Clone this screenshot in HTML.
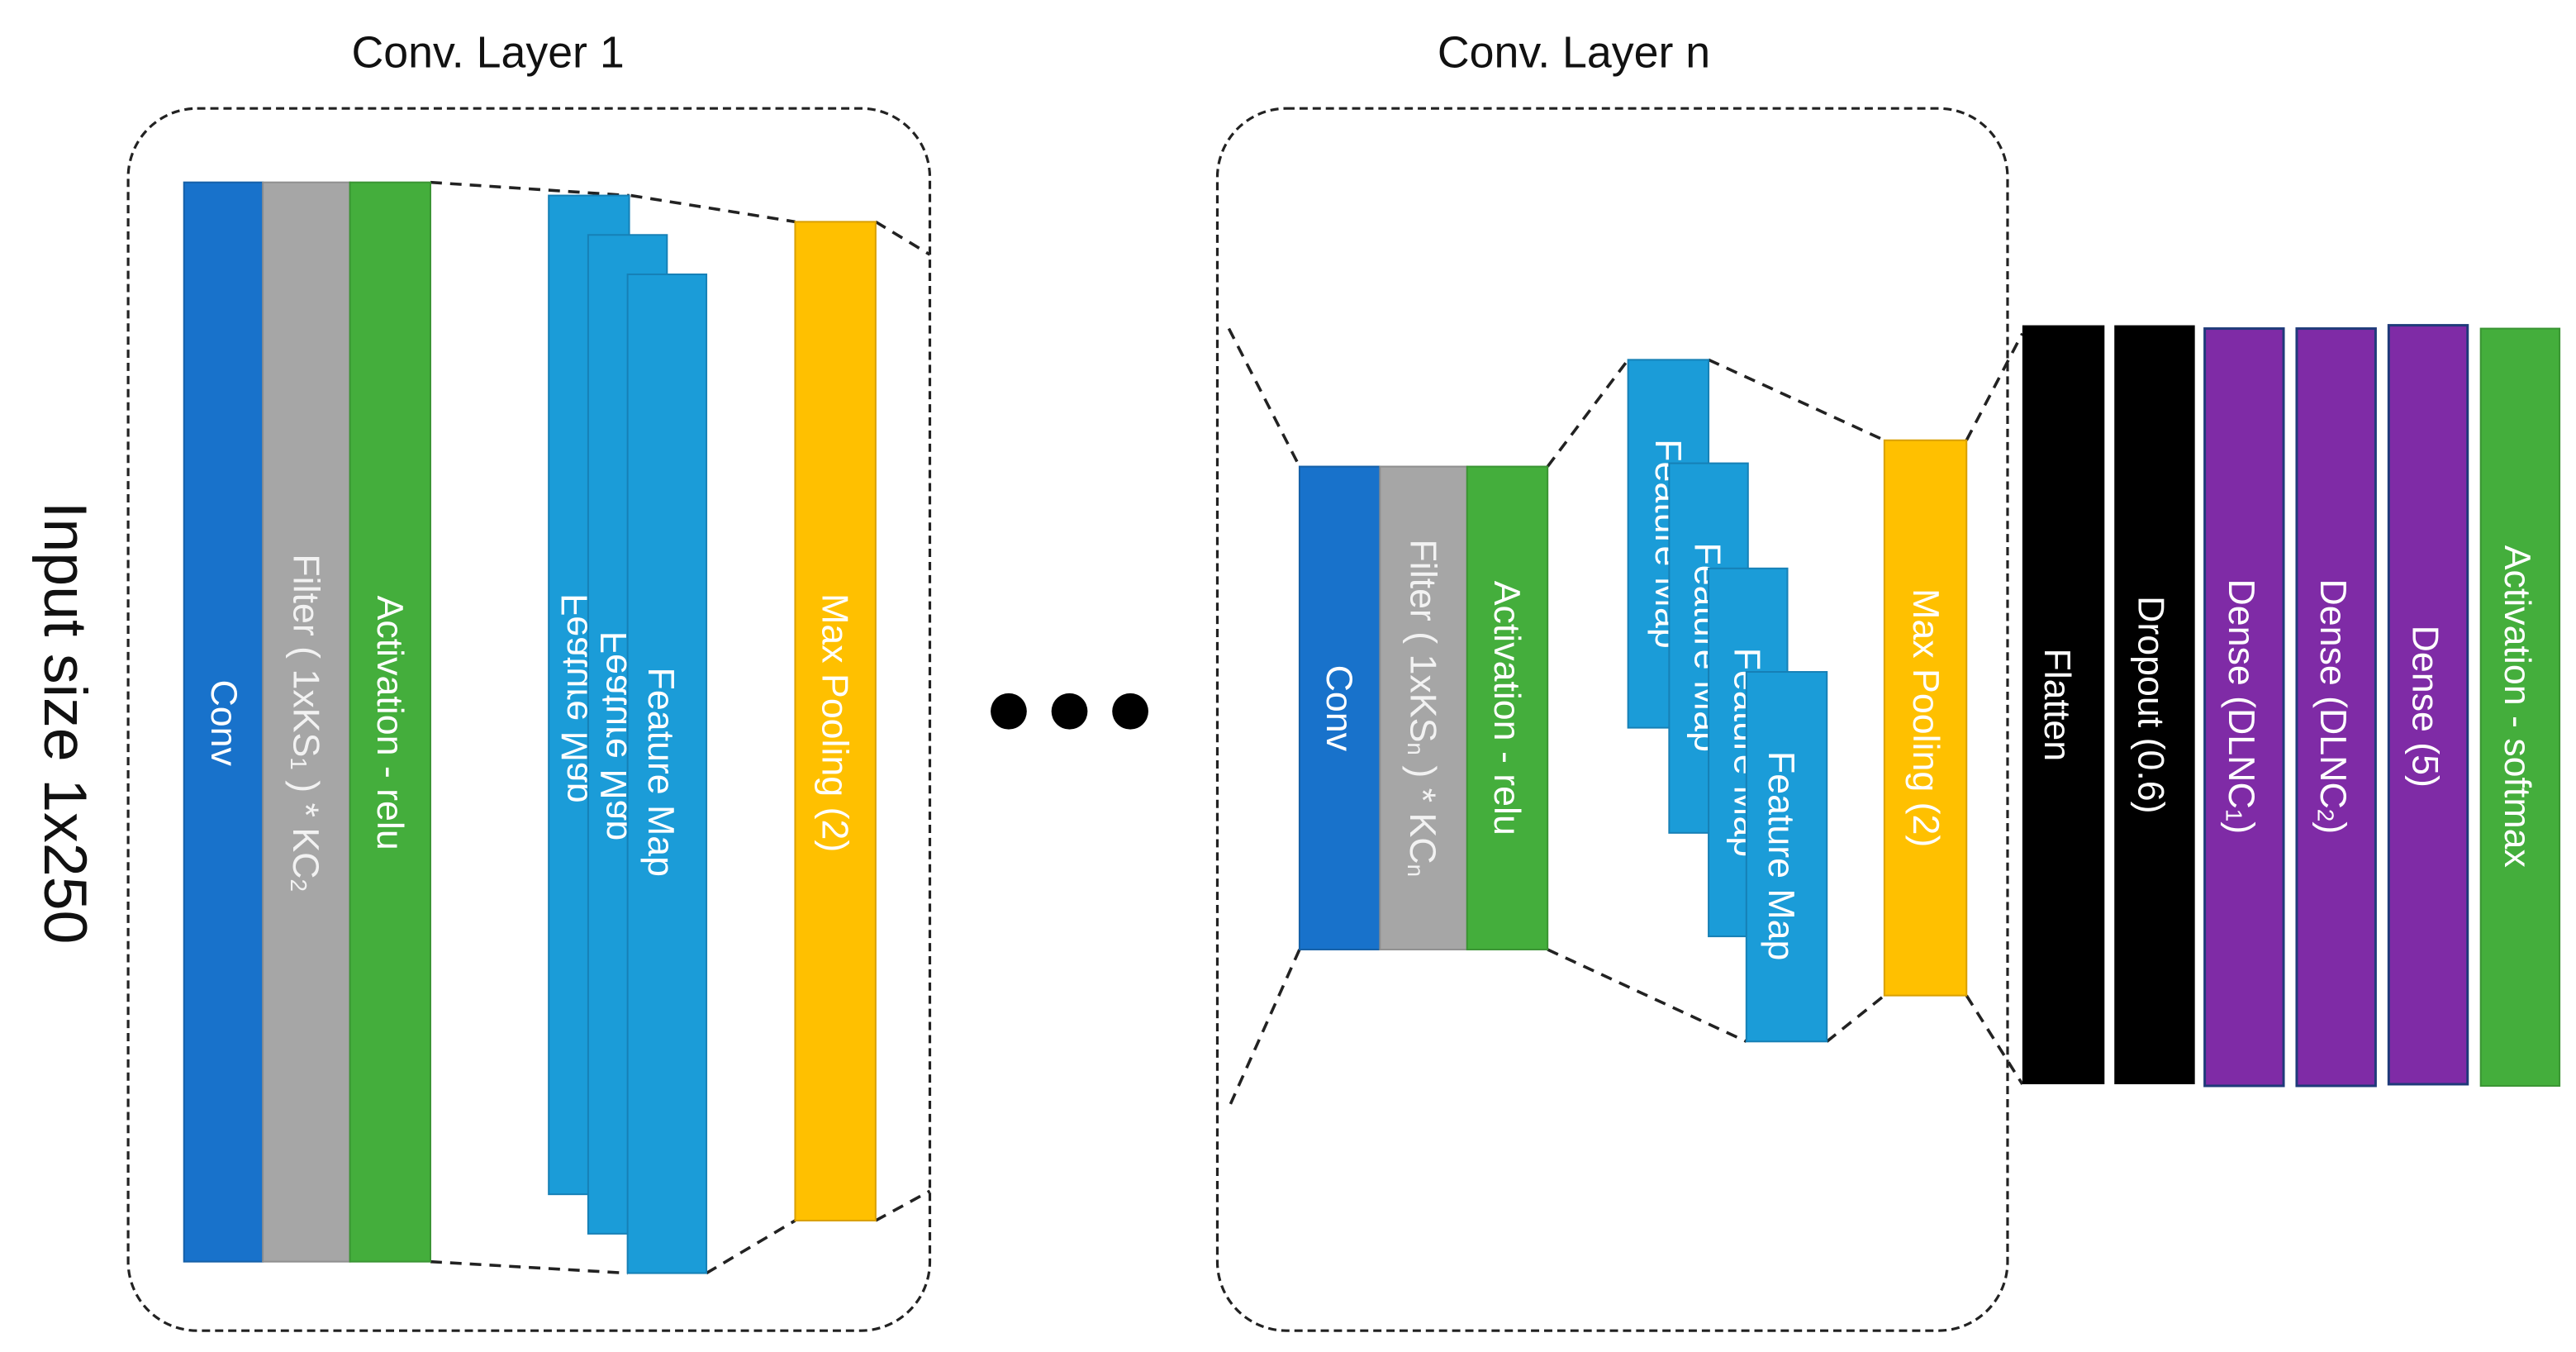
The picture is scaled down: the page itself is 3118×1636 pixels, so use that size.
<!DOCTYPE html>
<html><head><meta charset="utf-8"><style>
html,body{margin:0;padding:0;background:#fff;}
svg{display:block;}
text{font-family:"Liberation Sans","DejaVu Sans",sans-serif;}
</style></head><body>
<svg width="3118" height="1636" viewBox="0 0 1568 823" preserveAspectRatio="none" xmlns="http://www.w3.org/2000/svg">
<g font-size="27" fill="#111" text-anchor="middle">
<text x="297" y="41">Conv. Layer 1</text>
<text x="958" y="41">Conv. Layer n</text>
</g>
<text transform="translate(40,440) rotate(90)" text-anchor="middle" dominant-baseline="central" font-size="37" fill="#111">Input size 1x250</text>
<g fill="none" stroke="#222" stroke-width="1.6" stroke-dasharray="5,3">
<rect x="78" y="66" width="488" height="744" rx="42"/>
<rect x="741" y="66" width="481" height="744" rx="42"/>
</g>
<g fill="none" stroke="#222" stroke-width="1.8" stroke-dasharray="7,5">
<line x1="262" y1="111" x2="383" y2="119"/>
<line x1="384" y1="119" x2="484" y2="135"/>
<line x1="533" y1="135" x2="566" y2="155"/>
<line x1="262" y1="768" x2="382" y2="775"/>
<line x1="430" y1="775" x2="484" y2="743"/>
<line x1="533" y1="743" x2="566" y2="725"/>
<line x1="748" y1="200" x2="791" y2="284"/>
<line x1="791" y1="578" x2="749" y2="672"/>
<line x1="942" y1="284" x2="991" y2="219"/>
<line x1="1040" y1="219" x2="1147" y2="268"/>
<line x1="942" y1="578" x2="1063" y2="634"/>
<line x1="1112" y1="634" x2="1147" y2="606"/>
<line x1="1197" y1="268" x2="1231" y2="203"/>
<line x1="1197" y1="606" x2="1231" y2="660"/>
</g>
<g font-size="22.5" text-anchor="middle" dominant-baseline="central">
<rect x="112" y="111" width="48" height="657" fill="#1872cb" stroke="#1560a8"/>
<text transform="translate(136,440) rotate(90)" fill="#fff">Conv</text>
<rect x="160" y="111" width="53" height="657" fill="#a6a6a6" stroke="#8f8f8f"/>
<text transform="translate(186,440) rotate(90)" fill="#f2f2f2">Filter ( 1xKS<tspan font-size="14" dy="4">1</tspan><tspan dy="-4"> ) * KC</tspan><tspan font-size="14" dy="4">2</tspan></text>
<rect x="213" y="111" width="49" height="657" fill="#44ae3c" stroke="#3a9433"/>
<text transform="translate(237,440) rotate(90)" fill="#fff">Activation - relu</text>
<rect x="334" y="119" width="49" height="608" fill="#1b9cd8" stroke="#1680b6"/>
<text transform="translate(350,425) rotate(90) scale(1,-1)" fill="#fff">Feature Map</text>
<rect x="358" y="143" width="48" height="608" fill="#1b9cd8" stroke="#1680b6"/>
<text transform="translate(374,448) rotate(90) scale(1,-1)" fill="#fff">Feature Map</text>
<rect x="382" y="167" width="48" height="608" fill="#1b9cd8" stroke="#1680b6"/>
<text transform="translate(402,470) rotate(90)" fill="#fff">Feature Map</text>
<rect x="484" y="135" width="49" height="608" fill="#ffc000" stroke="#d9a000"/>
<text transform="translate(508,440) rotate(90)" fill="#fff">Max Pooling (2)</text>
<rect x="791" y="284" width="49" height="294" fill="#1872cb" stroke="#1560a8"/>
<text transform="translate(815,431) rotate(90)" fill="#fff">Conv</text>
<rect x="840" y="284" width="53" height="294" fill="#a6a6a6" stroke="#8f8f8f"/>
<text transform="translate(866,431) rotate(90)" fill="#f2f2f2">Filter ( 1xKS<tspan font-size="14" dy="4">n</tspan><tspan dy="-4"> ) * KC</tspan><tspan font-size="14" dy="4">n</tspan></text>
<rect x="893" y="284" width="49" height="294" fill="#44ae3c" stroke="#3a9433"/>
<text transform="translate(917,431) rotate(90)" fill="#fff">Activation - relu</text>
<rect x="991" y="219" width="49" height="224" fill="#1b9cd8" stroke="#1680b6"/>
<text transform="translate(1015,331) rotate(90)" fill="#fff">Feature Map</text>
<rect x="1016" y="282" width="48" height="225" fill="#1b9cd8" stroke="#1680b6"/>
<text transform="translate(1039,394) rotate(90)" fill="#fff">Feature Map</text>
<rect x="1040" y="346" width="48" height="224" fill="#1b9cd8" stroke="#1680b6"/>
<text transform="translate(1063,458) rotate(90)" fill="#fff">Feature Map</text>
<rect x="1063" y="409" width="49" height="225" fill="#1b9cd8" stroke="#1680b6"/>
<text transform="translate(1084,521) rotate(90)" fill="#fff">Feature Map</text>
<rect x="1147" y="268" width="50" height="338" fill="#ffc000" stroke="#d9a000"/>
<text transform="translate(1172,437) rotate(90)" fill="#fff">Max Pooling (2)</text>
<rect x="1231" y="198" width="50" height="462" fill="#000"/>
<text transform="translate(1252,429) rotate(90)" fill="#fff">Flatten</text>
<rect x="1287" y="198" width="49" height="462" fill="#000"/>
<text transform="translate(1309,429) rotate(90)" fill="#fff">Dropout (0.6)</text>
<rect x="1342" y="200" width="48" height="461" fill="#7f2ba6" stroke="#1f3a7a" stroke-width="1.5"/>
<text transform="translate(1364,430) rotate(90)" fill="#fff">Dense (DLNC<tspan font-size="14" dy="4">1</tspan><tspan dy="-4">)</tspan></text>
<rect x="1398" y="200" width="48" height="461" fill="#7f2ba6" stroke="#1f3a7a" stroke-width="1.5"/>
<text transform="translate(1420,430) rotate(90)" fill="#fff">Dense (DLNC<tspan font-size="14" dy="4">2</tspan><tspan dy="-4">)</tspan></text>
<rect x="1454" y="198" width="48" height="462" fill="#7f2ba6" stroke="#1f3a7a" stroke-width="1.5"/>
<text transform="translate(1476,430) rotate(90)" fill="#fff">Dense (5)</text>
<rect x="1510" y="200" width="48" height="461" fill="#44ae3c" stroke="#3a9433"/>
<text transform="translate(1532,430) rotate(90)" fill="#fff">Activation - softmax</text>
</g>
<g fill="#000">
<circle cx="614" cy="433" r="11"/>
<circle cx="651" cy="433" r="11"/>
<circle cx="688" cy="433" r="11"/>
</g>
</svg>
</body></html>
